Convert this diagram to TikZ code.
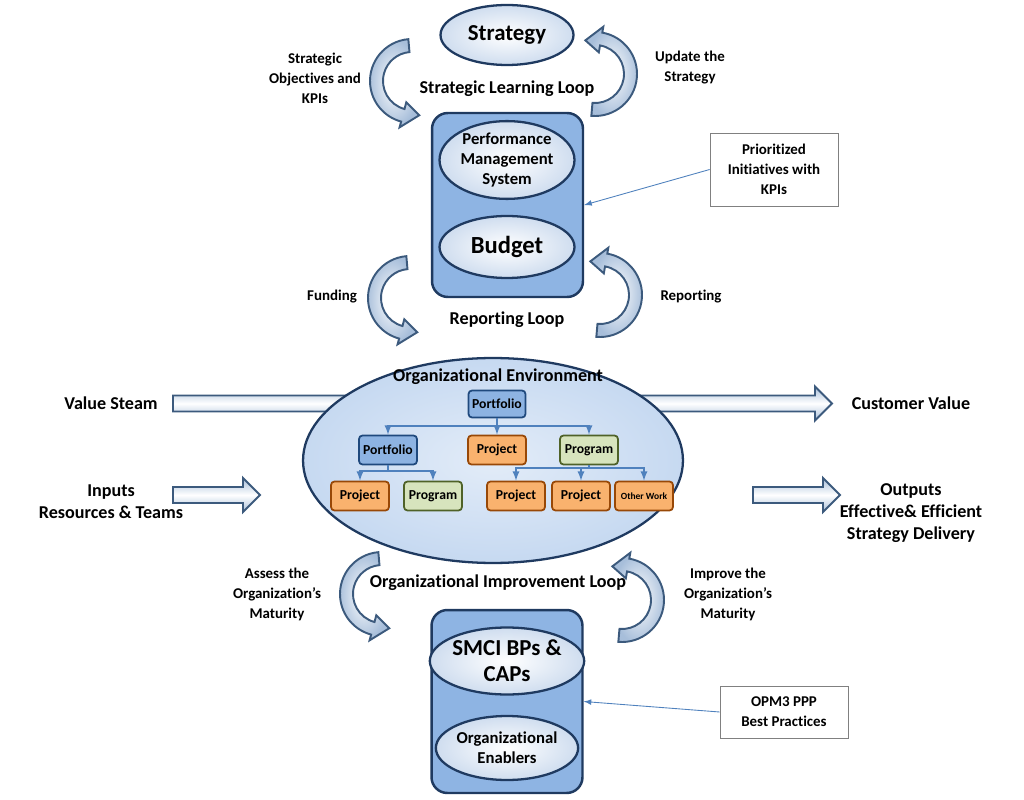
\documentclass[tikz,border=0pt]{standalone}
\usepackage{fontspec}
\setmainfont{Carlito}[Ligatures=NoCommon]
\usetikzlibrary{positioning,shapes.geometric,calc}

\definecolor{navy}{HTML}{1F3A60}
\definecolor{paleblue}{HTML}{CFDDEF}
\definecolor{boxblue}{HTML}{8EB4E3}
\definecolor{envblue}{HTML}{C6D9F1}
\definecolor{arrowblue}{HTML}{A7BEDA}
\definecolor{arrowedge}{HTML}{3C5A7D}
\definecolor{pfblue}{HTML}{8DB3E2}
\definecolor{pfedge}{HTML}{1F497D}
\definecolor{pjorange}{HTML}{F9B26E}
\definecolor{pjedge}{HTML}{984807}
\definecolor{pggreen}{HTML}{D7E4BD}
\definecolor{pgedge}{HTML}{4F6228}
\definecolor{orgline}{HTML}{4F81BD}

\newcommand{\bentarrow}[4]{%
  \path[looparrow] ($(#1)+(#2:42)$) arc[start angle=#2, end angle=#3, radius=42]
    -- ($(#1)+(#3:48)$) -- ($(#1)+(#4:35)$) -- ($(#1)+(#3:22)$)
    -- ($(#1)+(#3:29)$) arc[start angle=#3, end angle=#2, radius=29] -- cycle;}
\newcommand{\flatarrow}[3]{%
  \path[blockarrow] (#1,#3+8) -- (#2-17,#3+8) -- (#2-17,#3+17) -- (#2,#3)
    -- (#2-17,#3-17) -- (#2-17,#3-8) -- (#1,#3-8) -- cycle;}

\begin{document}
\begin{tikzpicture}[x=0.02cm, y=0.02cm, >=latex,
    looparrow/.style={draw=arrowedge, line width=1.1pt, inner color=white, outer color=arrowblue},
    blockarrow/.style={draw=arrowedge, line width=1.1pt, top color=arrowblue, bottom color=arrowblue, middle color=white},
    oval/.style={ellipse, draw=navy, line width=1.3pt, inner color=white, outer color=paleblue, align=center, inner sep=0pt,
      font=\bfseries\fontsize{9.5}{11.6}\selectfont},
    holder/.style={draw=navy, line width=1.4pt, fill=boxblue, rounded corners=9pt, minimum width=3.02cm, minimum height=3.68cm},
    lbl/.style={align=center, font=\bfseries\fontsize{8.5}{11.4}\selectfont},
    bigtext/.style={align=center, font=\bfseries\fontsize{10.3}{12.5}\selectfont},
    orgbox/.style={draw, line width=1pt, rounded corners=2pt, minimum width=1.16cm, minimum height=0.58cm, inner sep=1pt,
      font=\bfseries\fontsize{7.8}{9}\selectfont},
    pfbox/.style={orgbox, draw=pfedge, fill=pfblue},
    pjbox/.style={orgbox, draw=pjedge, fill=pjorange},
    pgbox/.style={orgbox, draw=pgedge, fill=pggreen},
    orgarrow/.style={draw=orgline, line width=0.8pt, ->},
    notebox/.style={draw=gray, fill=white, align=center, inner sep=2pt, font=\bfseries\fontsize{8.5}{11.4}\selectfont},
    callout/.style={draw=orgline, line width=0.5pt, ->}]
    \useasboundingbox (0,0) rectangle (1024,-800);

    \node[oval, minimum width=2.66cm, minimum height=1.2cm, font=\bfseries\fontsize{13}{15}\selectfont] (strategy) at (507,-35) {Strategy};
    \node[lbl] (objectives) at (315,-78) {Strategic\\Objectives and\\KPIs};
    \node[lbl] (update) at (690,-68) {Update the\\Strategy};
    \node[bigtext] (slloop) at (507,-89) {Strategic Learning Loop};
    \coordinate (c1) at (412,-81);
    \coordinate (c2) at (595,-74);
    \bentarrow{c1}{95}{255}{282}
    \bentarrow{c2}{-95}{80}{106}

    \node[holder] (pmsbox) at (507.5,-205) {};
    \node[oval, minimum width=2.7cm, minimum height=1.3cm] (pms) at (507,-160) {Performance\\Management\\System};
    \node[oval, minimum width=2.7cm, minimum height=1.24cm, font=\bfseries\fontsize{14}{16}\selectfont] (budget) at (507,-247) {Budget};
    \node[notebox, minimum width=2.56cm, minimum height=1.46cm] (prio) at (774,-169.5) {Prioritized\\Initiatives with\\KPIs};
    \draw[callout] (prio.west) -- (pmsbox.east);

    \node[lbl] (funding) at (332,-297) {Funding};
    \node[lbl] (reporting) at (691,-297) {Reporting};
    \node[bigtext] (rloop) at (507,-320) {Reporting Loop};
    \coordinate (c3) at (410,-298);
    \coordinate (c4) at (600,-295);
    \bentarrow{c3}{95}{255}{282}
    \bentarrow{c4}{-95}{80}{106}

    \flatarrow{173}{832}{-403.5}
    \node[ellipse, draw=navy, line width=1.3pt, inner color=envblue!50!white, outer color=envblue, minimum width=7.6cm, minimum height=4.1cm] (env) at (493,-460.5) {};
    \node[bigtext] (envtitle) at (498,-377) {Organizational Environment};
    \node[bigtext] (valuesteam) at (111,-403) {Value Steam};
    \node[bigtext] (custvalue) at (911,-403) {Customer Value};

    \node[pfbox, minimum width=1.14cm, minimum height=0.54cm] (pf) at (497,-404) {Portfolio};
    \node[pfbox] (pf2) at (388,-450) {Portfolio};
    \node[pjbox] (pj) at (497,-450) {Project};
    \node[pgbox] (pg) at (589,-450) {Program};
    \node[pjbox] (pj2) at (360,-496) {Project};
    \node[pgbox] (pg2) at (433,-496) {Program};
    \node[pjbox] (pj3) at (516,-496) {Project};
    \node[pjbox] (pj4) at (581,-496) {Project};
    \node[pjbox, font=\bfseries\fontsize{5.4}{6}\selectfont] (ow) at (644,-496) {Other Work};
    \coordinate (bus1) at (497,-426);
    \coordinate (bus2) at (388,-471);
    \coordinate (bus3) at (589,-468);
    \draw[orgarrow] (pf.south) -- (pj.north);
    \draw[orgarrow] (bus1) -| (pf2.north);
    \draw[orgarrow] (bus1) -| (pg.north);
    \draw[draw=orgline, line width=0.8pt] (pf2.south) -- (bus2);
    \draw[orgarrow] (bus2) -| (pj2.north);
    \draw[orgarrow] (bus2) -| (pg2.north);
    \draw[draw=orgline, line width=0.8pt] (pg.south) -- (bus3);
    \draw[orgarrow] (bus3) -| (pj3.north);
    \draw[orgarrow] (bus3) -| (pj4.north);
    \draw[orgarrow] (bus3) -| (ow.north);

    \flatarrow{173}{260}{-495}
    \node[bigtext] (inputs) at (111,-502) {Inputs\\Resources \& Teams};
    \flatarrow{753}{840}{-495}
    \node[bigtext] (outputs) at (911,-513) {Outputs\\Effective\& Efficient\\Strategy Delivery};

    \node[lbl] (assess) at (277,-594) {Assess the\\Organization’s\\Maturity};
    \node[bigtext] (oiloop) at (498,-583) {Organizational Improvement Loop};
    \node[lbl] (improve) at (728,-594) {Improve the\\Organization’s\\Maturity};
    \coordinate (c5) at (382,-594);
    \coordinate (c6) at (622,-600);
    \bentarrow{c5}{95}{255}{282}
    \bentarrow{c6}{-95}{80}{106}

    \node[holder, minimum height=3.66cm] (smcibox) at (507,-701.5) {};
    \node[oval, minimum width=2.64cm, minimum height=1.34cm, font=\bfseries\fontsize{13}{15}\selectfont] (smci) at (507,-661) {SMCI BPs \&\\CAPs};
    \node[oval, minimum width=2.64cm, minimum height=1.28cm] (enablers) at (507,-748) {Organizational\\Enablers};
    \node[notebox, minimum width=2.56cm, minimum height=1.04cm] (opm) at (784,-712) {OPM3 PPP\\Best Practices};
    \draw[callout] (opm.west) -- (smcibox.east);
\end{tikzpicture}
\end{document}
